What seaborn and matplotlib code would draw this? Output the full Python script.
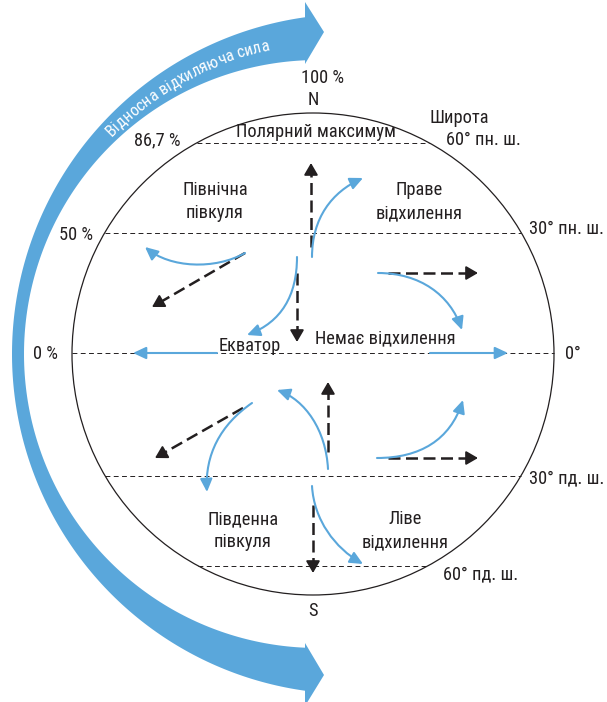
import numpy as np
import pandas as pd
import matplotlib
matplotlib.use("Agg")
import matplotlib.pyplot as plt
import seaborn as sns
from matplotlib.patches import Circle, Polygon, FancyArrowPatch
from matplotlib.path import Path
from matplotlib import font_manager as fm

# everything is in pixel units of the 607x702 picture (y grows downward)
globe_cx, globe_cy, globe_r = 313, 354, 241

lat_names = ["60N", "30N", "equator", "30S", "60S"]
lat_y = [143, 233, 353, 476, 566]

# dashed black arrows: start -> tip
black_start = [(311, 247), (297, 273), (388, 273), (245, 253),
               (328, 452), (313, 505), (388, 458), (243, 408)]
black_tip = [(311, 163), (297, 342), (478, 273), (152, 307),
             (328, 382), (313, 573), (478, 458), (155, 458)]

# blue deflected paths (cubic bezier control points)
blue_curves = [
    [(312, 257), (312, 218), (332, 192), (363, 178)],
    [(297, 257), (297, 296), (281, 322), (247, 335)],
    [(378, 273), (420, 273), (450, 295), (462, 330)],
    [(245, 253), (215, 270), (170, 268), (145, 247)],
    [(328, 469), (326, 430), (305, 400), (277, 390)],
    [(312, 486), (314, 520), (335, 548), (363, 564)],
    [(377, 458), (420, 458), (450, 440), (463, 400)],
    [(252, 403), (220, 425), (205, 455), (207, 492)],
]
equator_start = [(217, 353), (430, 353)]
equator_tip = [(133, 353), (508, 353)]

labels = [
    ("100 %", 323, 78, "center"),
    ("N", 313, 100, "center"),
    ("86,7 %", 181, 140, "right"),
    ("Полярний максимум", 316, 132, "center"),
    ("Широта", 459, 118, "center"),
    ("60° пн. ш.", 483, 140, "center"),
    ("Північна", 215, 190, "center"),
    ("півкуля", 215, 213, "center"),
    ("Праве", 419, 190, "center"),
    ("відхилення", 419, 213, "center"),
    ("50 %", 93, 235, "right"),
    ("30° пн. ш.", 529, 229, "left"),
    ("0 %", 58, 354, "right"),
    ("0°", 565, 354, "left"),
    ("Екватор", 250, 346, "center"),
    ("Немає відхилення", 385, 338, "center"),
    ("30° пд. ш.", 529, 478, "left"),
    ("Південна", 243, 519, "center"),
    ("півкуля", 243, 542, "center"),
    ("Ліве", 405, 519, "center"),
    ("відхилення", 405, 542, "center"),
    ("60° пд. ш.", 443, 574, "left"),
    ("S", 313, 611, "center"),
]
band_text = "Відносна відхиляюча сила"

BLUE = "#5aa7db"
INK = "#231f20"

sns.set_theme(style="white")
plt.rcParams["font.family"] = ["Liberation Sans", "DejaVu Sans"]

# look for a narrow / condensed face, the original uses a condensed sans
font_file = None
for key in ["LiberationSansNarrow-Regular", "RobotoCondensed-Regular", "Roboto_Condensed-Regular",
            "OpenSans_Condensed-Regular", "OpenSansCondensed-Regular", "DejaVuSansCondensed."]:
    hits = [f.fname for f in fm.fontManager.ttflist if key in f.fname]
    if hits:
        font_file = hits[0]
        break


def make_prop(size):
    if font_file:
        return fm.FontProperties(fname=font_file, size=size)
    return fm.FontProperties(family=["Liberation Sans", "DejaVu Sans"], size=size)


fig = plt.figure(figsize=(6.07, 7.02), dpi=100)
ax = fig.add_axes([0, 0, 1, 1])
ax.set_xlim(0, 607)
ax.set_ylim(702, 0)
ax.set_aspect("equal")
ax.axis("off")
renderer = fig.canvas.get_renderer()


def text_w(s, p):
    return renderer.get_text_width_height_descent(s, p, ismath=False)[0]


# sizes tuned so that the texts are a little wider than the condensed original
fsize = float(np.clip(13 * 158 / text_w("Полярний максимум", make_prop(13)), 11, 13.5))
prop = make_prop(fsize)
bsize = float(np.clip(13 * 182 / text_w(band_text, make_prop(13)), 11, 14))
bprop = make_prop(bsize)

# big curved arrow band
a_out = np.degrees(np.arccos((305 - 352) / 340))
a_in = np.degrees(np.arccos((305 - 318) / 294))
t = np.radians(np.linspace(a_out, 360 - a_out, 200))
outer = np.column_stack([352 + 340 * np.cos(t), 354 - 340 * np.sin(t)])
t = np.radians(np.linspace(360 - a_in, a_in, 200))
inner = np.column_stack([318 + 294 * np.cos(t), 354 - 294 * np.sin(t)])
band = np.vstack([outer, [(305, 706), (324, 675), (305, 643)], inner,
                  [(305, 64), (324, 32), (305, 2)]])
ax.add_patch(Polygon(band, closed=True, fc=BLUE, ec="none", zorder=1))

# globe
ax.add_patch(Circle((globe_cx, globe_cy), globe_r, fill=False, ec=INK, lw=0.9, zorder=2))

# latitude lines
half = np.sqrt(globe_r ** 2 - (np.array(lat_y) - globe_cy) ** 2)
lat_df = pd.DataFrame({
    "x": np.concatenate([globe_cx - half, globe_cx + half]),
    "y": lat_y * 2,
    "line": lat_names * 2,
})
sns.lineplot(data=lat_df, x="x", y="y", units="line", estimator=None, sort=False,
             color=INK, lw=0.7, ax=ax, legend=False, zorder=2)
for ln in ax.lines:
    ln.set_linestyle((0, (5, 3.5)))

# black dashed arrows
for (x0, y0), (x1, y1) in zip(black_start, black_tip):
    d = np.array([x1 - x0, y1 - y0], float)
    d /= np.hypot(*d)
    hx, hy = x1 - 7 * d[0], y1 - 7 * d[1]
    ax.plot([x0, hx], [y0, hy], color=INK, lw=1.8, ls=(0, (4.8, 2.2)),
            solid_capstyle="butt", zorder=3)
    ax.annotate("", xy=(x1, y1), xytext=(x1 - 9 * d[0], y1 - 9 * d[1]),
                arrowprops=dict(arrowstyle="-|>,head_length=0.55,head_width=0.32",
                                color=INK, lw=1.4, mutation_scale=13,
                                shrinkA=0, shrinkB=0), zorder=3)

# blue curved arrows
codes = [Path.MOVETO, Path.CURVE4, Path.CURVE4, Path.CURVE4]
for pts in blue_curves:
    ax.add_patch(FancyArrowPatch(path=Path(pts, codes),
                                 arrowstyle="-|>,head_length=0.6,head_width=0.28",
                                 mutation_scale=13, color=BLUE, lw=1.5, zorder=4))
for p0, p1 in zip(equator_start, equator_tip):
    ax.annotate("", xy=p1, xytext=p0,
                arrowprops=dict(arrowstyle="-|>,head_length=0.6,head_width=0.28",
                                color=BLUE, lw=1.5, mutation_scale=13,
                                shrinkA=0, shrinkB=0), zorder=4)

# labels
for s, x, y, ha in labels:
    ax.text(x, y, s, ha=ha, va="center", fontproperties=prop, color=INK, zorder=5)

# curved text along the band
wx = text_w("x", bprop)
adv = [0.0] + [text_w(band_text[:i] + "x", bprop) - wx for i in range(1, len(band_text) + 1)]
total = adv[-1]
mid_cx, mid_cy, mid_r = 335, 354, 317
base_r = mid_r - 6
a_start = np.radians(119) + (total / 2) / base_r
for i, ch in enumerate(band_text):
    s = (adv[i] + adv[i + 1]) / 2
    a = a_start - s / base_r
    x = mid_cx + base_r * np.cos(a)
    y = mid_cy - base_r * np.sin(a)
    ax.text(x, y, ch, rotation=np.degrees(a) - 90, rotation_mode="anchor",
            ha="center", va="baseline", fontproperties=bprop, color="white", zorder=5)

fig.savefig("out.png", dpi=100)
